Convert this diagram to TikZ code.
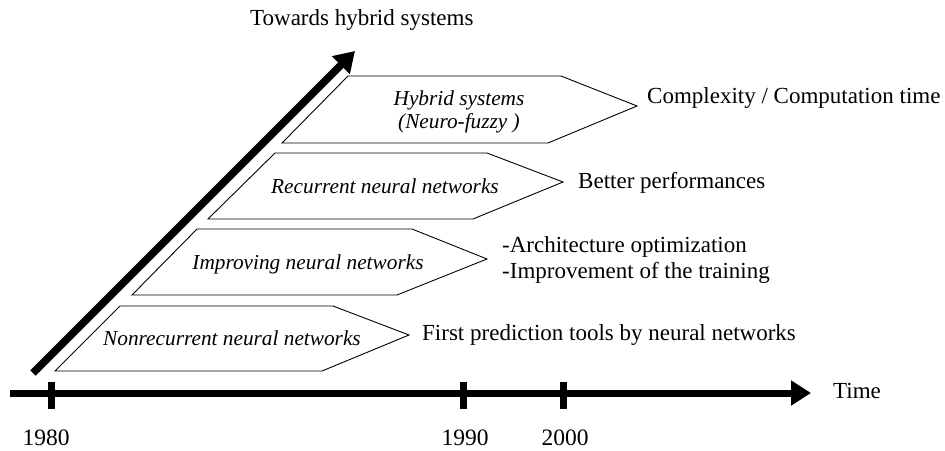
\documentclass[tikz,border=0pt]{standalone}
\usepackage{fontspec}
\setmainfont{Liberation Serif}
\usetikzlibrary{arrows.meta}
\begin{document}
\begin{tikzpicture}[x=1pt,y=-1pt,
  stage/.style={draw=black, line width=0.9pt},
  lab/.style={font=\fontsize{21.3}{25}\selectfont\itshape, inner sep=0pt, anchor=base},
  txt/.style={font=\fontsize{23}{27}\selectfont, inner sep=0pt, anchor=base west},
  yr/.style={font=\fontsize{23.5}{27}\selectfont, inner sep=0pt, anchor=base},
  bigarrow/.style={line width=7.5pt, -{Triangle[length=20pt,width=24pt]}},
  tickmark/.style={line width=7pt}
]
\useasboundingbox (0,0) rectangle (945,450);

% stage shapes
\draw[stage] (120,306) -- (333,306) -- (409,335) -- (322,371) -- (55,371) -- cycle;
\draw[stage] (197,229) -- (412,229) -- (487,259) -- (397,295) -- (132,295) -- cycle;
\draw[stage] (275,153) -- (487,153) -- (563,182) -- (473,219) -- (208,219) -- cycle;
\draw[stage] (348,76) -- (561,76) -- (637,106) -- (548,143) -- (282,143) -- cycle;

% stage labels
\node[lab] (s1) at (232,345) {Nonrecurrent neural networks};
\node[lab] (s2) at (308,269) {Improving neural networks};
\node[lab] (s3) at (385,193) {Recurrent neural networks};
\node[lab] (s4a) at (459,105) {Hybrid systems};
\node[lab] (s4b) at (459,128) {(Neuro-fuzzy )};

% outcomes
\node[txt] (o1) at (422,340) {First prediction tools by neural networks};
\node[txt] (o2a) at (502,252) {-Architecture optimization};
\node[txt] (o2b) at (502,278) {-Improvement of the training};
\node[txt] (o3) at (578,188) {Better performances};
\node[txt] (o4) at (647,103) {Complexity / Computation time};

% diagonal arrow
\coordinate (d0) at (33,373);
\coordinate (d1) at (355,51);
\draw[bigarrow] (d0) -- (d1);
\node[txt] (tw) at (250,25) {Towards hybrid systems};

% time axis
\coordinate (a0) at (10,393);
\coordinate (a1) at (811,393);
\draw[bigarrow, line width=7pt] (a0) -- (a1);
\node[txt] (tm) at (833,398) {Time};

% ticks
\coordinate (k1t) at (51,382); \coordinate (k1b) at (51,409);
\coordinate (k2t) at (463,382); \coordinate (k2b) at (463,409);
\coordinate (k3t) at (563,382); \coordinate (k3b) at (563,409);
\draw[tickmark] (k1t) -- (k1b);
\draw[tickmark] (k2t) -- (k2b);
\draw[tickmark] (k3t) -- (k3b);

\node[yr] (y1) at (46,445) {1980};
\node[yr] (y2) at (465,445) {1990};
\node[yr] (y3) at (565,445) {2000};
\end{tikzpicture}
\end{document}
